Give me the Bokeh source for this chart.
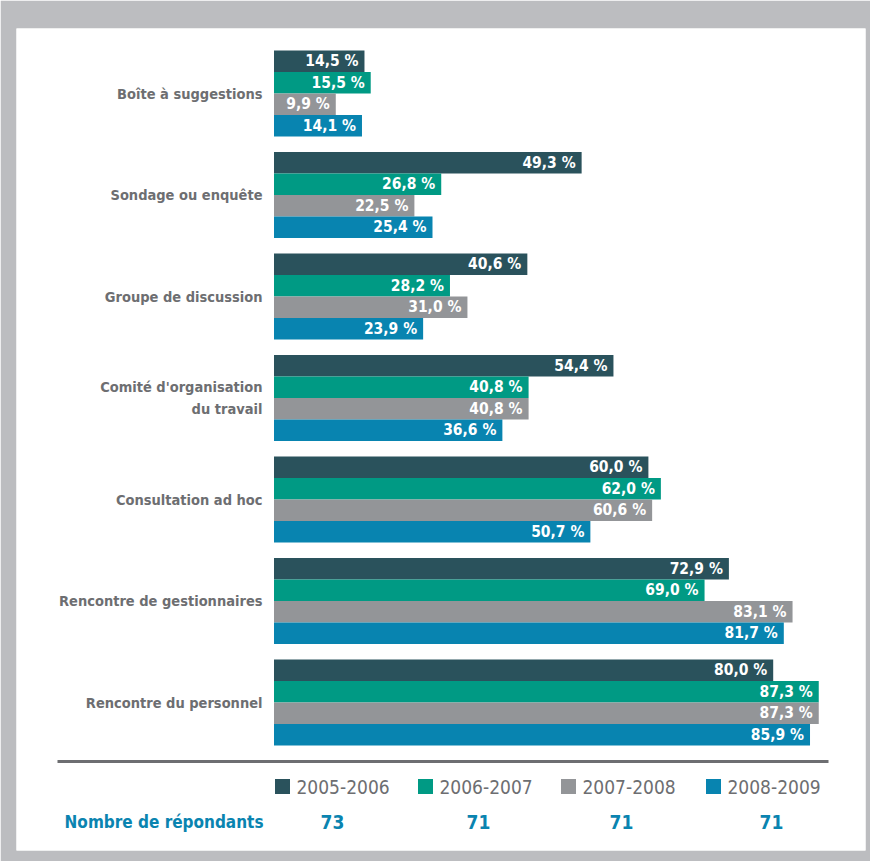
from bokeh.plotting import figure
from bokeh.models import Range1d, ColumnDataSource
from bokeh.core.properties import value
from bokeh.embed import file_html
from bokeh.resources import INLINE

categories = ["Boîte à suggestions", "Sondage ou enquête", "Groupe de discussion",
              "Comité d'organisation\ndu travail", "Consultation ad hoc",
              "Rencontre de gestionnaires", "Rencontre du personnel"]
series = ["2005-2006", "2006-2007", "2007-2008", "2008-2009"]
v2005 = [14.5, 49.3, 40.6, 54.4, 60.0, 72.9, 80.0]
v2006 = [15.5, 26.8, 28.2, 40.8, 62.0, 69.0, 87.3]
v2007 = [9.9, 22.5, 31.0, 40.8, 60.6, 83.1, 87.3]
v2008 = [14.1, 25.4, 23.9, 36.6, 50.7, 81.7, 85.9]
respondents = [73, 71, 71, 71]
respondents_label = "Nombre de répondants"

colors = ["#2a525c", "#009a84", "#939598", "#0884b0"]
GRAY_TXT = "#6d6e71"
BLUE_TXT = "#0a84b0"
FRAME = "#bcbdc0"
FONT = value("DejaVu Sans Condensed")

PXU = 6.24  # pixels per percent unit
X0PX = 273.5
x0 = (16 - X0PX) / PXU
x1 = (865 - X0PX) / PXU
GY = 101.5  # pixels per group
y_top = -(93 - 28) / GY
y_bot = (850 - 93) / GY


def px(xp):
    return (xp - X0PX) / PXU


def py(yp):
    return (yp - 93) / GY


p = figure(width=870, height=861, output_backend="svg", toolbar_location=None,
           x_range=Range1d(x0, x1), y_range=Range1d(y_bot, y_top),
           x_axis_type=None, y_axis_type=None,
           min_border_left=16, min_border_right=5, min_border_top=28, min_border_bottom=11)
p.border_fill_color = FRAME
p.background_fill_color = "white"
p.outline_line_color = None
p.xgrid.visible = False
p.ygrid.visible = False

bh = 21.5 / GY
all_vals = [v2005, v2006, v2007, v2008]
for k, (vals, col) in enumerate(zip(all_vals, colors)):
    ys = [i + (k - 1.5) * bh for i in range(len(categories))]
    src = ColumnDataSource(dict(y=ys, right=vals,
                                lab=[f"{v:.1f}".replace(".", ",") + " %" for v in vals]))
    p.hbar(y="y", left=0, right="right", height=bh, source=src,
           fill_color=col, line_color=None)
    p.text(x="right", y="y", text="lab", source=src, x_offset=-6,
           text_align="right", text_baseline="middle", text_color="white",
           text_font=FONT, text_font_style="bold", text_font_size="15.5px")

# category labels
lx, ly, lt = [], [], []
for i, c in enumerate(categories):
    lines = c.split("\n")
    n = len(lines)
    for j, ln in enumerate(lines):
        lx.append(px(262))
        ly.append(i + (j - (n - 1) / 2) * (22 / GY))
        lt.append(ln)
p.text(x=lx, y=ly, text=lt, text_align="right", text_baseline="middle",
       text_color=GRAY_TXT, text_font=FONT, text_font_style="bold",
       text_font_size="14.5px")

# separator line
sep_y = py(761)
p.line(x=[px(57), px(828)], y=[sep_y, sep_y], line_color=GRAY_TXT, line_width=3)

# legend
leg_y = py(786)
sq_px = [282, 425, 568, 713]
p.scatter(x=[px(s) for s in sq_px], y=[leg_y] * 4, marker="square", size=15,
          fill_color=colors, line_color=None)
p.text(x=[px(s + 14) for s in sq_px], y=[leg_y] * 4, text=series,
       text_align="left", text_baseline="middle", text_color=GRAY_TXT,
       text_font=FONT, text_font_size="19px")

# respondents row
cnt_y = py(821)
cnt_px = [332, 478, 621, 771]
p.text(x=[px(c) for c in cnt_px], y=[cnt_y] * 4,
       text=[str(r) for r in respondents], text_align="center",
       text_baseline="middle", text_color=BLUE_TXT, text_font=FONT,
       text_font_style="bold", text_font_size="19px")
p.text(x=[px(263)], y=[cnt_y], text=[respondents_label],
       text_align="right", text_baseline="middle", text_color=BLUE_TXT,
       text_font=FONT, text_font_style="bold", text_font_size="17px")

open("out.html", "w").write(file_html(p, INLINE))
